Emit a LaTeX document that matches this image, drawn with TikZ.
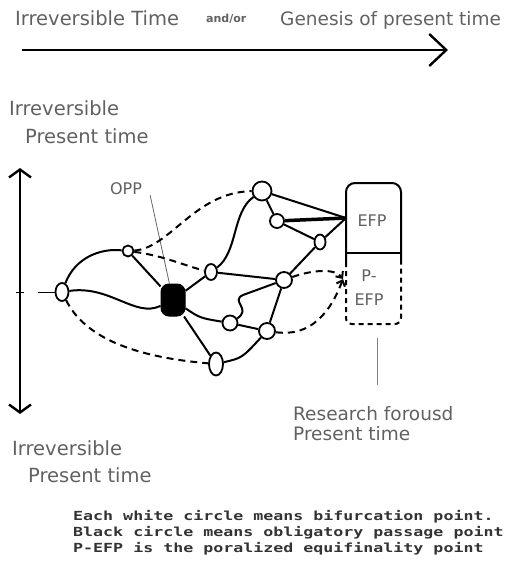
\documentclass[tikz,border=0pt]{standalone}
\usepackage{fontspec}
\setmainfont{DejaVu Sans}
\newfontfamily\notefont{DejaVu Sans Mono}
\usetikzlibrary{arrows.meta,shapes.geometric}

\begin{document}
\begin{tikzpicture}[x=1pt,y=-1pt,>={Straight Barb[length=5pt,width=9pt]},
	txt/.style={text=black!62,inner sep=0pt,anchor=base west,font=\fontsize{19.5}{22}\selectfont},
	note/.style={text=black!80,inner sep=0pt,anchor=base west,font=\fontsize{12.5}{15}\selectfont\notefont\bfseries},
	bif/.style={draw,fill=white,line width=1.8pt,inner sep=0pt},
	bc/.style={bif,circle},
	be/.style={bif,ellipse},
	link/.style={line width=2pt},
	dlink/.style={line width=2pt,dash pattern=on 7pt off 5pt}]
	\useasboundingbox (0,0) rectangle (513,567);
	\node[txt] (t1) at (15,26) {Irreversible Time};
	\node[txt,font=\fontsize{11}{13}\selectfont\bfseries] (t2) at (206,23) {and/or};
	\node[txt,font=\fontsize{18.5}{22}\selectfont] (t3) at (280,26) {Genesis of present time};
	\coordinate (ts) at (22,50);
	\coordinate (te) at (448,50);
	\draw[line width=2.4pt,-{Straight Barb[length=17pt,width=32pt]}] (ts) -- (te);
	\node[txt] (irr1) at (9,116) {Irreversible};
	\node[txt] (pre1) at (25,143) {Present time};
	\node[txt] (irr2) at (12,455) {Irreversible};
	\node[txt] (pre2) at (28,482) {Present time};
	\coordinate (vt) at (20,168);
	\coordinate (vb) at (20,414);
	\draw[line width=2.4pt,{Straight Barb[length=8pt,width=22pt]}-{Straight Barb[length=8pt,width=22pt]}] (vt) -- (vb);
	\draw[line width=0.8pt] (16,292) -- (24,292);
	\node[be,minimum width=13pt,minimum height=18pt] (a) at (62,292) {};
	\node[bc,minimum size=11pt] (b) at (128,251) {};
	\node[draw,fill=black,rounded corners=8pt,minimum width=24pt,minimum height=32pt,line width=1pt] (opp) at (173,300) {};
	\node[be,minimum width=12pt,minimum height=16pt] (c) at (211,272) {};
	\node[bc,minimum size=19pt] (d) at (262,191) {};
	\node[bc,minimum size=14pt] (e) at (277,221) {};
	\node[be,minimum width=11pt,minimum height=15pt] (f) at (320,242) {};
	\node[bc,minimum size=16pt] (g) at (284,280) {};
	\node[bc,minimum size=15pt] (h) at (230,323) {};
	\node[bc,minimum size=16pt] (i) at (267,331) {};
	\node[be,minimum width=14pt,minimum height=23pt] (j) at (216,364) {};
	\node[txt,anchor=center,font=\fontsize{16}{18}\selectfont] (opplbl) at (126,189) {OPP};
	\draw[black!60,line width=0.8pt] ([xshift=8pt]opplbl.south east) -- (opp);
	\coordinate (ain) at (38,292);
	\coordinate (efpin) at (346,218);
	\coordinate (tip) at (343,279);
	\draw[line width=1pt] (ain) -- (a);
	\draw[link] (a) .. controls (75,258) and (100,248) .. (b);
	\draw[link] (a) .. controls (110,285) and (135,318) .. (opp);
	\draw[link] (b) -- (opp);
	\draw[dlink] (b) .. controls (165,256) and (185,266) .. (c);
	\draw[dlink] (b) .. controls (170,248) and (195,192) .. (d);
	\draw[link] (opp) -- (c);
	\draw[link] (c) .. controls (238,252) and (232,212) .. (d);
	\draw[link] (c) -- (g);
	\draw[link] (opp) .. controls (200,318) .. (h);
	\draw[link] (opp) -- (j);
	\draw[dlink] (a) .. controls (85,338) and (135,357) .. (j);
	\draw[link] (j) .. controls (242,358) .. (i);
	\draw[link] (h) -- (i);
	\draw[link] (g) -- (i);
	\draw[link] (g) -- (243,295) .. controls (230,301) and (252,309) .. (h);
	\draw[link] (d) -- (e);
	\draw[link] (d) -- (efpin);
	\draw[line width=3.5pt] (e) -- (efpin);
	\draw[link] (e) -- (f);
	\draw[link] (f) -- (efpin);
	\draw[link] (f) -- (g);
	\draw[dlink,->] (g) .. controls (312,270) and (335,268) .. (tip);
	\draw[dlink,->] (i) .. controls (318,338) and (335,300) .. (tip);
	\draw[line width=2pt,rounded corners=9pt] (346,262) -- (346,183) -- (401,183) -- (401,262);
	\draw[line width=1.8pt] (346,253) -- (401,253);
	\draw[line width=2pt,dash pattern=on 5pt off 4pt,rounded corners=6pt] (346,262) -- (346,324) -- (401,324) -- (401,262);
	\node[txt,anchor=center,font=\fontsize{16}{18}\selectfont] (efp) at (372,221) {EFP};
	\node[txt,anchor=center,align=center,font=\fontsize{16}{24}\selectfont] (pefp) at (369,288) {P-\\EFP};
	\coordinate (rt) at (377,338);
	\coordinate (rb) at (377,385);
	\draw[black!50,line width=0.8pt] (rt) -- (rb);
	\node[txt,font=\fontsize{18.5}{21}\selectfont] (res1) at (293,420) {Research forousd};
	\node[txt,font=\fontsize{18.5}{21}\selectfont] (res2) at (293,440) {Present time};
	\node[note] (n1) at (73,520) {\scalebox{1.33}[1]{Each white circle means bifurcation point.}};
	\node[note] (n2) at (73,536) {\scalebox{1.33}[1]{Black circle means obligatory passage point}};
	\node[note] (n3) at (73,552) {\scalebox{1.33}[1]{P-EFP is the poralized equifinality point}};
\end{tikzpicture}
\end{document}
